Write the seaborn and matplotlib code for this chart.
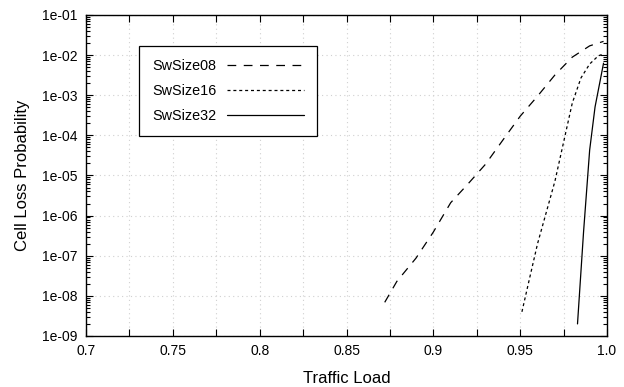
import numpy as np
import pandas as pd
import matplotlib
matplotlib.use('Agg')
import matplotlib.pyplot as plt
import matplotlib.ticker as mticker
import seaborn as sns

# 各交换规模下的信元丢失率
load_08 = [0.872, 0.879, 0.89, 0.90, 0.91, 0.92, 0.93, 0.94, 0.95, 0.96, 0.97, 0.98, 0.99, 0.998]
clp_08 = [6.9e-9, 2.3e-8, 8.7e-8, 3.9e-7, 2.1e-6, 6.2e-6, 1.9e-5, 7.6e-5, 3.0e-4, 9.5e-4, 3.2e-3, 8.9e-3, 1.7e-2, 2.2e-2]

load_16 = [0.951, 0.955, 0.96, 0.965, 0.97, 0.975, 0.98, 0.985, 0.99, 0.995, 0.998]
clp_16 = [4.0e-9, 2.3e-8, 2.0e-7, 1.2e-6, 7.2e-6, 6.8e-5, 6.4e-4, 2.7e-3, 6.0e-3, 9.6e-3, 1.07e-2]

load_32 = [0.983, 0.9865, 0.990, 0.9931, 0.998]
clp_32 = [2.0e-9, 4.0e-7, 4.3e-5, 5.1e-4, 6.3e-3]

series_names = ["SwSize08", "SwSize16", "SwSize32"]
x_ticks = [0.7, 0.75, 0.8, 0.85, 0.9, 0.95, 1.0]
x_tick_labels = ["0.7", "0.75", "0.8", "0.85", "0.9", "0.95", "1.0"]

df = pd.concat([
    pd.DataFrame({"load": load_08, "clp": clp_08, "series": series_names[0]}),
    pd.DataFrame({"load": load_16, "clp": clp_16, "series": series_names[1]}),
    pd.DataFrame({"load": load_32, "clp": clp_32, "series": series_names[2]}),
])

sns.set_style("ticks")
plt.rcParams['font.family'] = ['Liberation Sans', 'DejaVu Sans']
plt.rcParams.update({"text.color": "black", "axes.labelcolor": "black",
                     "xtick.color": "black", "ytick.color": "black"})

fig = plt.figure(figsize=(6.24, 3.87), dpi=100)
ax = fig.add_axes([0.1378, 0.1318, 0.835, 0.8295])

dashes = {series_names[0]: (7, 6), series_names[1]: (2.4, 2.3), series_names[2]: ""}
sns.lineplot(data=df, x="load", y="clp", style="series", dashes=dashes,
             color="black", linewidth=0.9, sort=False, ax=ax)

ax.set_yscale("log")
ax.set_xlim(0.7, 1.0)
ax.set_ylim(1e-9, 1e-1)

ax.set_xticks(x_ticks)
ax.set_xticklabels(x_tick_labels)
ax.xaxis.set_minor_locator(mticker.MultipleLocator(0.025))
ax.yaxis.set_major_locator(mticker.LogLocator(base=10, numticks=20))
ax.yaxis.set_major_formatter(mticker.FuncFormatter(lambda v, p: f"{v:.0e}"))
ax.yaxis.set_minor_locator(mticker.LogLocator(base=10, subs=np.arange(2, 10), numticks=20))
ax.yaxis.set_minor_formatter(mticker.NullFormatter())

ax.tick_params(which="both", direction="in", top=True, right=True, labelsize=10, width=0.8)
ax.tick_params(which="major", length=5, pad=6)
ax.tick_params(which="minor", length=3)
ax.tick_params(axis="x", which="minor", length=5)

grid_style = dict(linestyle=(0, (1, 3)), color="#d0d0d0", linewidth=0.8)
ax.grid(True, which="major", axis="y", **grid_style)
ax.grid(True, which="both", axis="x", **grid_style)
for s in ax.spines.values():
    s.set_color("black")
    s.set_linewidth(1.0)

ax.set_xlabel("Traffic Load", fontsize=12, labelpad=9)
ax.set_ylabel("Cell Loss Probability", fontsize=12, labelpad=9)

leg = ax.legend(loc="upper left", bbox_to_anchor=(0.102, 0.903), borderaxespad=0,
                fontsize=10.4, markerfirst=False, handlelength=5.3, handletextpad=0.75,
                labelspacing=0.75, borderpad=0.9, fancybox=False, frameon=True)
leg.get_frame().set_edgecolor("black")
leg.get_frame().set_linewidth(0.9)
leg.get_frame().set_alpha(1)

fig.savefig("out.png", dpi=100)
